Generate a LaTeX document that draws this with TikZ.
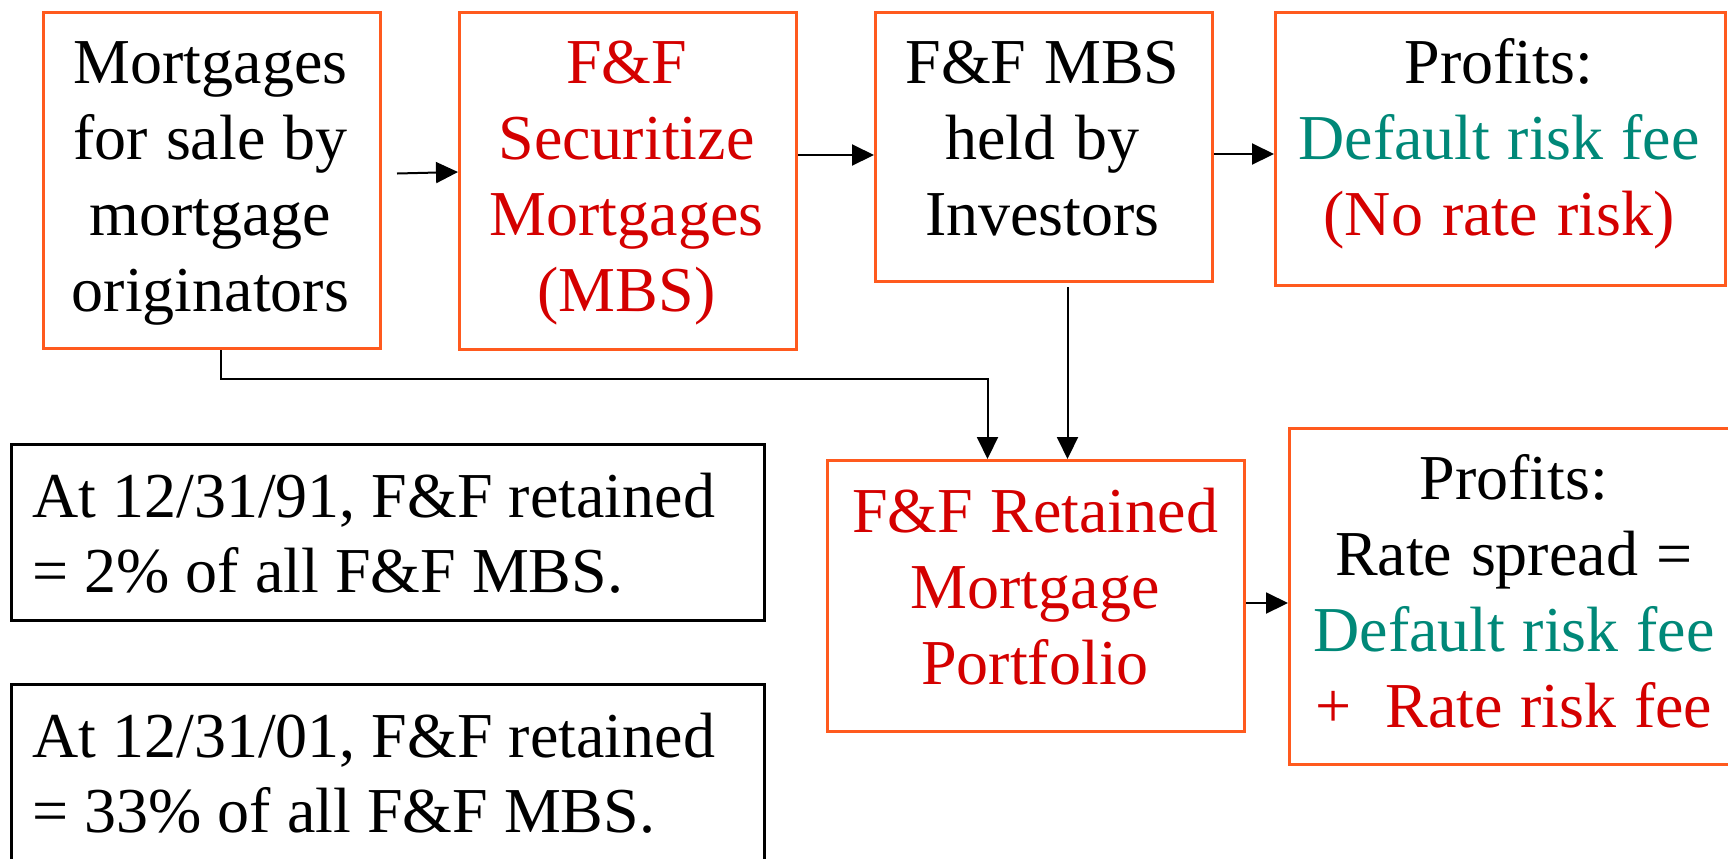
\documentclass[tikz,border=0pt]{standalone}
\usepackage{fontspec}
\setmainfont{Liberation Serif}
\usetikzlibrary{arrows.meta,calc}
\definecolor{boxorange}{RGB}{255,90,30}
\definecolor{txtred}{RGB}{212,0,0}
\definecolor{txtteal}{RGB}{0,136,120}
\begin{document}
\begin{tikzpicture}[x=0.5pt,y=-0.5pt,
  obox/.style={draw=boxorange,line width=1.5pt,rectangle,inner sep=0pt,anchor=north west},
  kbox/.style={draw=black,line width=1.5pt,rectangle,inner sep=0pt,anchor=north west},
  txt/.style={font=\fontsize{32}{38}\selectfont,align=center,inner sep=0pt,anchor=base,
    execute at begin node={\spaceskip=0pt\xspaceskip=0pt\relax}},
  ltxt/.style={font=\fontsize{32}{37.5}\selectfont,align=left,inner sep=0pt,anchor=base west,text width=360pt,
    execute at begin node={\spaceskip=0pt\xspaceskip=0pt\relax}},
  conn/.style={line width=1pt},
  arr/.style={conn,-{Triangle[length=11pt,width=10.5pt]}}]
\useasboundingbox (0,0) rectangle (1728,858);
\clip (0,0) rectangle (1728,858);
% boxes
\node[obox,minimum width=168.5pt,minimum height=168pt] (b1) at (42,11) {};
\node[obox,minimum width=168.5pt,minimum height=168.5pt] (b2) at (458,11) {};
\node[obox,minimum width=168.5pt,minimum height=134.5pt] (b3) at (874,11) {};
\node[obox,minimum width=225pt,minimum height=136.5pt] (b4) at (1274,11) {};
\node[obox,minimum width=208.5pt,minimum height=135.5pt] (b5) at (826,459) {};
\node[obox,minimum width=226pt,minimum height=168pt] (b6) at (1288,427) {};
\node[kbox,minimum width=376.5pt,minimum height=88pt] (b7) at (10,443) {};
\node[kbox,minimum width=376.5pt,minimum height=95pt] (b8) at (10,683) {};
% texts
\node[txt,text width=168pt] (t1) at (210.5,83) {Mortgages\\for sale by\\mortgage\\originators};
\node[txt,text width=168pt,text=txtred] (t2) at (626.5,83) {F\&F\\Securitize\\Mortgages\\(MBS)};
\node[txt,text width=168pt] (t3) at (1042.5,83) {F\&F MBS\\held by\\Investors};
\node[txt,text width=224pt] (t4) at (1499,83) {Profits:\\\textcolor{txtteal}{Default risk fee}\\\textcolor{txtred}{(No rate risk)}};
\node[txt,text width=208pt,text=txtred] (t5) at (1035,532) {F\&F Retained\\Mortgage\\Portfolio};
\node[txt,text width=224pt] (t6) at (1514,499) {Profits:\\Rate spread =\\\textcolor{txtteal}{Default risk fee}\\\textcolor{txtred}{+\hspace{17pt}Rate risk fee}};
\node[ltxt] (t7) at (32,517) {At 12/31/91, F\&F retained\\= 2\% of all F\&F MBS.};
\node[ltxt] (t8) at (32,757) {At 12/31/01, F\&F retained\\= 33\% of all F\&F MBS.};
% connectors
\draw[arr] ([shift={(15,-7)}]b1.east) -- (b2.west |- 0,172);
\draw[arr] (b2.east |- 0,155) -- (b3.west |- 0,155);
\draw[arr] (b3.east |- 0,154) -- (b4.west |- 0,154);
\draw[arr] (b5.east |- 0,603) -- (b6.west |- 0,603);
\draw[arr] ([shift={(8.5,0)}]b1.south) |- ([shift={(-48.5,-80)}]b5.north) -- ([shift={(-48.5,0)}]b5.north);
\draw[arr] ([shift={(23.5,4)}]b3.south) -- ([shift={(31.5,0)}]b5.north);
\end{tikzpicture}
\end{document}
